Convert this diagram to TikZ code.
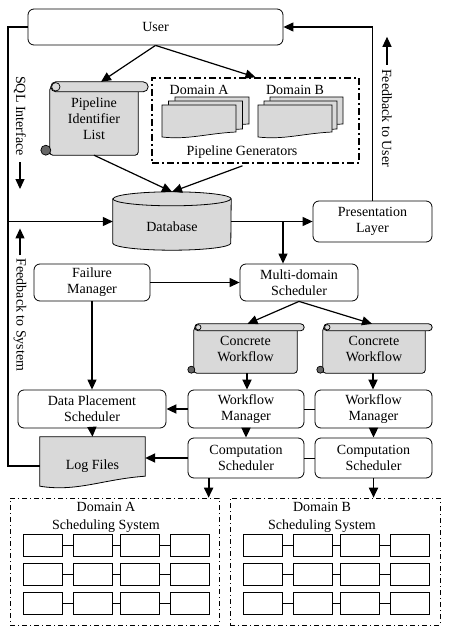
\documentclass[tikz,border=0pt]{standalone}
\usepackage{fontspec}
\setmainfont{Liberation Serif}
\usetikzlibrary{arrows.meta,calc,backgrounds}
\definecolor{boxgray}{gray}{0.85}
\definecolor{curlgray}{gray}{0.4}

% document shape: x y w h rise
\newcommand\mydoc[5]{%
  \draw[fill=boxgray,line width=0.7pt] (#1,#2) -- (#1,#2+#4)
    .. controls (#1+0.35*#3,#2+#4+0.6*#5) and (#1+0.6*#3,#2+#4-0.7*#5) ..
    (#1+#3,#2+#4-#5) -- (#1+#3,#2) -- cycle;}

% scroll decoration: node, roll height, roll extension, curl radius
\newcommand\scrolldeco[4]{%
  \draw[fill=boxgray,rounded corners=3pt,line width=0.8pt]
    ($(#1.north west)+(0,#2/2)$) -- (#1.south west) -- (#1.south east)
    -- ($(#1.north east)+(0,#2/2)$) -- cycle;
  \draw[fill=boxgray,rounded corners=#4pt,line width=0.8pt]
    ($(#1.north west)+(1,0)$) rectangle ($(#1.north east)+(#3,#2)$);
  \draw[fill=boxgray,line width=0.7pt] ($(#1.north west)+(1+#4,#2/2)$) circle[radius=#4pt-0.8pt];
  \draw[fill=curlgray,line width=0.7pt] ($(#1.south west)+(-#4+1,-#4)$) circle[radius=#4pt];
}

\begin{document}
\begin{tikzpicture}[x=1pt,y=-1pt,
  every node/.style={font=\fontsize{14}{16}\selectfont, inner sep=0pt},
  rbox/.style={draw, rounded corners=6pt, line width=0.8pt, align=center},
  plain/.style={align=center},
  arr/.style={line width=1.2pt, -{Triangle[length=10pt,width=9pt]}},
  tarr/.style={line width=1.8pt, -{Triangle[length=10pt,width=9pt]}},
  link/.style={line width=0.8pt},
  thickdd/.style={line width=1.6pt, dash pattern=on 7pt off 3pt on 2pt off 3pt},
  thindd/.style={line width=0.6pt, dash pattern=on 5pt off 3pt on 1pt off 3pt},
  gbox/.style={draw, line width=0.8pt, minimum width=39, minimum height=22},
]
\useasboundingbox (0,0) rectangle (448,639);

% ---------- nodes ----------
\node[rbox, minimum width=255, minimum height=36] (user) at (155.5,27) {User};
\node[plain, minimum width=88, minimum height=73] (pil) at (94,118.5) {Pipeline\\Identifier\\List};
\node[draw, thickdd, minimum width=207, minimum height=85] (gen) at (255.5,120.5) {};
\node (gena) at (199,90) {Domain A};
\node (genb) at (295,90) {Domain B};
\node (genl) at (242,152) {Pipeline Generators};
\node[minimum width=118, minimum height=46] (db) at (172,227) {Database};
\node[rbox, minimum width=119, minimum height=41] (pres) at (372.5,221.5) {Presentation\\Layer};
\node[rbox, minimum width=116, minimum height=37] (fail) at (92,282.5) {Failure\\Manager};
\node[rbox, minimum width=118, minimum height=37] (multi) at (299,282.5) {Multi-domain\\Scheduler};
\node[plain, minimum width=103, minimum height=49] (cw1) at (245.5,348.5) {Concrete\\Workflow};
\node[plain, minimum width=102, minimum height=49] (cw2) at (374,348.5) {Concrete\\Workflow};
\node[rbox, minimum width=148, minimum height=38] (dps) at (92,409) {Data Placement\\Scheduler};
\node[rbox, minimum width=116, minimum height=38] (wm1) at (246,409) {Workflow\\Manager};
\node[rbox, minimum width=117, minimum height=38] (wm2) at (373.5,409) {Workflow\\Manager};
\node[rbox, minimum width=116, minimum height=40] (cs1) at (246,458) {Computation\\Scheduler};
\node[rbox, minimum width=117, minimum height=40] (cs2) at (373.5,458) {Computation\\Scheduler};
\node[minimum width=105, minimum height=58] (log) at (92.5,466) {Log Files};
\node[draw, thindd, minimum width=209, minimum height=127] (doma) at (114.5,561.5) {};
\node[draw, thindd, minimum width=210, minimum height=127] (domb) at (335,561.5) {};
\node[align=center] (domal) at (106,517) {Domain A\\[2pt]Scheduling System};
\node[align=center] (dombl) at (322,517) {Domain B\\[2pt]Scheduling System};

\node[rotate=-90] (sql) at (20,116) {SQL Interface};
\node[rotate=-90] (fbs) at (20,315) {Feedback to System};
\node[rotate=-90] (fbu) at (387,118) {Feedback to User};

% grids
\foreach \col/\cx in {1/42.5,2/92.5,3/139.5,4/189.5}
  \foreach \row/\ry in {1/545,2/574,3/603}
    \node[gbox] (a\row\col) at (\cx,\ry) {};
\foreach \col/\cx in {1/262.5,2/312.5,3/359.5,4/409.5}
  \foreach \row/\ry in {1/545,2/574,3/603}
    \node[gbox] (b\row\col) at (\cx,\ry) {};
\foreach \row in {1,2,3}
  \foreach \c/\d in {1/2,2/3,3/4} {
    \draw[link] (a\row\c.east) -- (a\row\d.west);
    \draw[link] (b\row\c.east) -- (b\row\d.west);
  }

% ---------- decorations behind text ----------
\begin{pgfonlayer}{background}
  \scrolldeco{pil}{10}{10}{5}
  \scrolldeco{cw1}{7}{7}{3.5}
  \scrolldeco{cw2}{7}{7}{3.5}
  \coordinate (dbtl) at ($(db.north west)+(0,-5)$);
  \coordinate (dbtr) at ($(db.north east)+(0,-5)$);
  \coordinate (dbbl) at ($(db.south west)+(0,-7)$);
  \draw[fill=boxgray, line width=0.8pt] (dbtl) -- (dbbl)
     arc[start angle=180,end angle=360,x radius=59pt,y radius=7pt]
     -- (dbtr) arc[start angle=0,end angle=180,x radius=59pt,y radius=7pt] -- cycle;
  \draw[line width=0.8pt] (dbtl) arc[start angle=180,end angle=360,x radius=59pt,y radius=7pt];
  \draw[fill=boxgray,line width=0.8pt] (log.north west) -- ($(log.south west)+(0,-9)$)
     .. controls ($(log.south west)+(37,-3)$) and ($(log.south west)+(63,-16)$) ..
     ($(log.south east)+(0,-19)$) -- (log.north east) -- cycle;
\end{pgfonlayer}

% stacked documents in generator box
\mydoc{175}{97}{74}{31}{4}
\mydoc{168.5}{101}{74}{32}{4}
\mydoc{162}{105}{74}{32}{5}
\mydoc{270}{97}{73}{31}{4}
\mydoc{264}{101}{73}{32}{4}
\mydoc{258}{105}{74}{32}{5}

% ---------- connectors ----------
\coordinate (lft) at (8,0);
\coordinate (br) at (283,0);
\coordinate (cw1d) at ($(cw1.south)+(1.5,0)$);
\coordinate (cw2d) at ($(cw2.south)+(-1,0)$);
\coordinate (cs1d) at ($(cs1.south west)!0.18!(cs1.south east)$);
\draw[arr] (user.south) -- ($(pil.north)+(7,0)$);
\draw[arr] (user.south) -- (gen.north);
\draw[arr] (pil.south) -- ($(db.north)+(0,-12)$);
\draw[arr] ($(gen.south)+(-13,2)$) -- ($(db.north)+(0,-12)$);
\draw[link,line width=1.2pt] (user.west) -| (lft |- log.west) -- (log.west);
\draw[arr] (lft |- pres.west) -- (db.west |- pres.west);
\draw[arr] (db.east |- pres.west) -- (pres.west);
\draw[arr] (br |- pres.west) -- (br |- multi.north);
\draw[arr] (pres.north) -- (pres.north |- user.east) -- (user.east);
\draw[arr] (fail.east) -- (multi.west);
\draw[arr] (fail.south) -- (dps.north);
\draw[arr] (multi.south) -- ($(cw1.north)+(2,0)$);
\draw[arr] (multi.south) -- ($(cw2.north)+(-2,0)$);
\draw[tarr] (cw1d) -- (cw1d |- wm1.north);
\draw[tarr] (cw2d) -- (cw2d |- wm2.north);
\draw[tarr] (wm1.west) -- (dps.east);
\draw[link] (wm1.east) -- (wm2.west);
\draw[tarr] (wm1.south) -- (cs1.north);
\draw[tarr] (wm2.south) -- (cs2.north);
\draw[link] (cs1.east) -- (cs2.west);
\draw[tarr] (dps.south) -- (log.north);
\draw[tarr] (cs1.west) -- (cs1.west -| log.east);
\draw[tarr] (cs1d) -- (cs1d |- doma.north);
\draw[tarr] (cs2.south) -- (cs2.south |- domb.north);

% annotation arrows
\draw[arr] ($(sql.east)+(0,6)$) -- ++(0,27);
\draw[arr] ($(fbs.west)+(0,-3)$) -- ++(0,-27);
\draw[arr] ($(fbu.west)+(0,-4)$) -- ++(0,-28);
\end{tikzpicture}
\end{document}
